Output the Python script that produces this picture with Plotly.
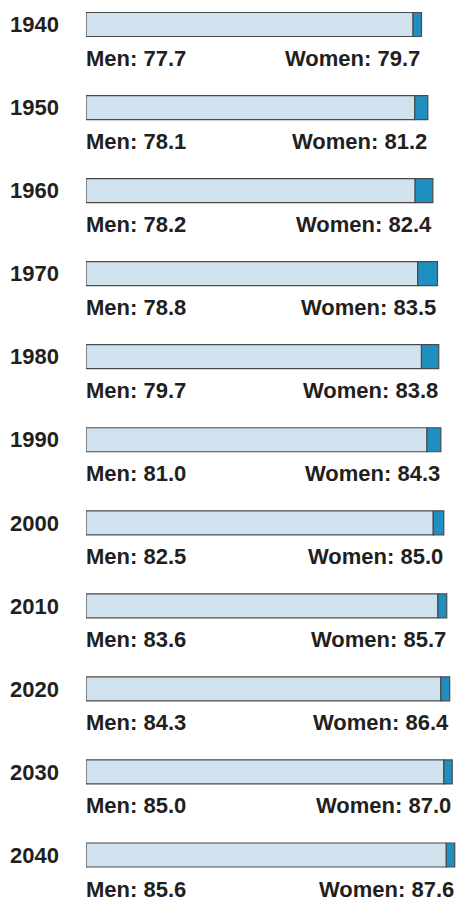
import plotly.graph_objects as go

years = ["1940", "1950", "1960", "1970", "1980", "1990", "2000", "2010", "2020", "2030", "2040"]
men = [77.7, 78.1, 78.2, 78.8, 79.7, 81.0, 82.5, 83.6, 84.3, 85.0, 85.6]
women = [79.7, 81.2, 82.4, 83.5, 83.8, 84.3, 85.0, 85.7, 86.4, 87.0, 87.6]

W, H = 456, 897
row_px = 83.05
first_center_px = 24.5
bar_px = 24
label_off_px = 34

rows = list(range(len(years)))
FONT = "Liberation Sans Narrow, Arial Narrow, Liberation Sans, Arial, sans-serif"
TXT = "#231f20"
OUTLINE = "#4a4a4a"
FS = 22

fig = go.Figure()
fig.add_trace(go.Bar(
    y=rows, x=men, base=[0] * len(men), orientation="h",
    width=bar_px / row_px,
    marker=dict(color="#d0e2ee", line=dict(color=OUTLINE, width=1.2)),
    hoverinfo="skip", showlegend=False,
))
fig.add_trace(go.Bar(
    y=rows, x=[w - m for w, m in zip(women, men)], base=men, orientation="h",
    width=bar_px / row_px,
    marker=dict(color="#1f8fc0", line=dict(color=OUTLINE, width=1.2)),
    hoverinfo="skip", showlegend=False,
))

ann = []
for i, (m, w) in enumerate(zip(men, women)):
    yy = i + label_off_px / row_px
    ann.append(dict(x=0, y=yy, xref="x", yref="y", text=f"<b>Men: {m:.1f}</b>",
                    showarrow=False, xanchor="left", yanchor="middle", xshift=-2,
                    font=dict(family=FONT, size=FS, color=TXT)))
    ann.append(dict(x=w, y=yy, xref="x", yref="y", text=f"<b>Women: {w:.1f}</b>",
                    showarrow=False, xanchor="right", yanchor="middle", xshift=1,
                    font=dict(family=FONT, size=FS, color=TXT)))

top = -first_center_px / row_px
bottom = (H - first_center_px) / row_px
fig.update_layout(
    width=W, height=H,
    margin=dict(l=86, r=0, t=0, b=0, autoexpand=False),
    paper_bgcolor="white", plot_bgcolor="white",
    barmode="overlay",
    xaxis=dict(range=[0, 87.9], visible=False, fixedrange=True, automargin=False),
    yaxis=dict(range=[bottom, top], tickvals=rows, ticktext=[f"<b>{y}</b>" for y in years],
               showgrid=False, zeroline=False, showline=False, ticks="",
               automargin=False, ticklabelstandoff=26,
               tickfont=dict(family=FONT, size=FS, color=TXT), fixedrange=True),
    annotations=ann,
)
fig.write_html("out.html", config={"displayModeBar": False},
               post_script="document.body.style.margin='0';document.body.style.overflow='hidden';")
